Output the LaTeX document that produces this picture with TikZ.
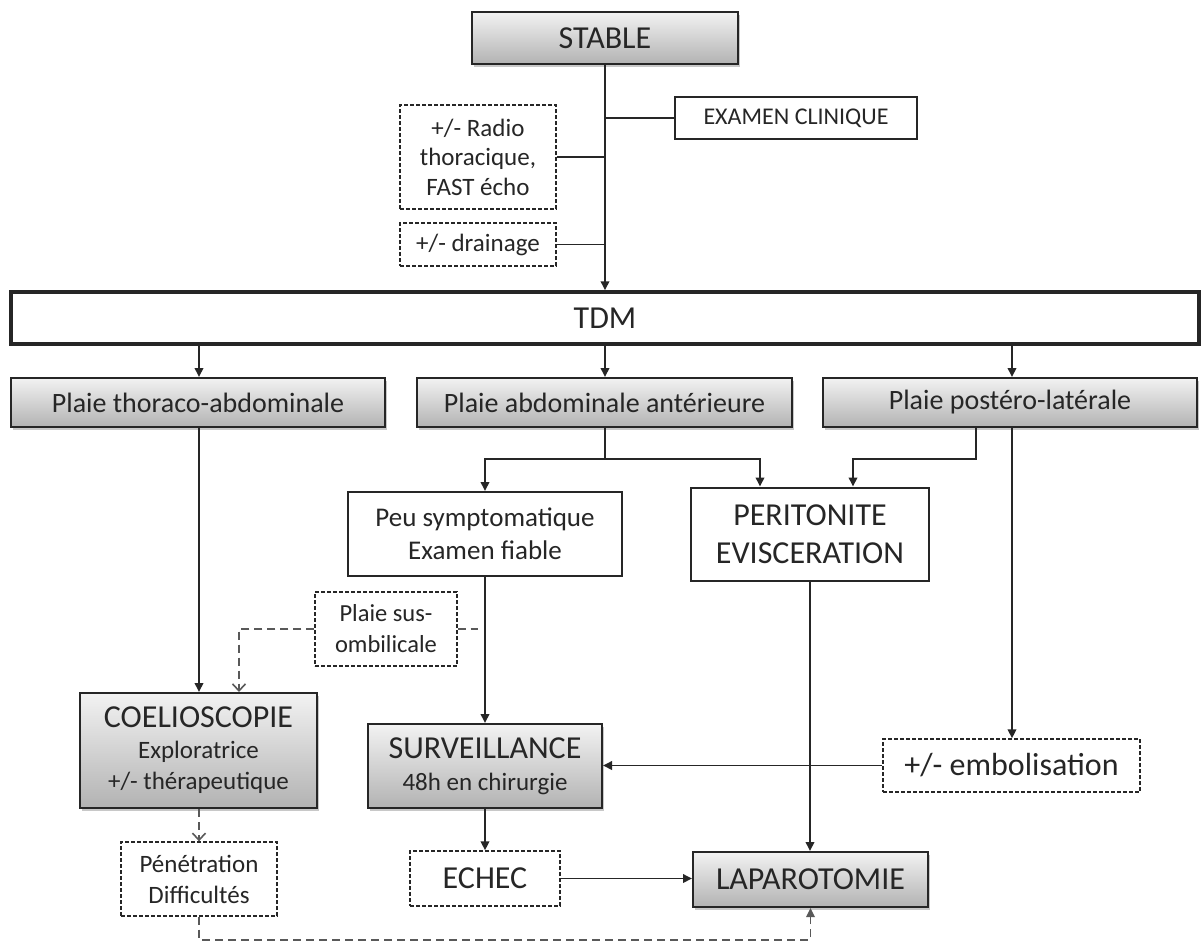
\documentclass[tikz,border=0pt]{standalone}
\usepackage{fontspec}
\setmainfont{Carlito}
\usetikzlibrary{arrows.meta,shadows}
\newcommand\fsz[2]{\fontsize{#1}{#2}\selectfont}
\definecolor{ink}{HTML}{262626}
\definecolor{dline}{HTML}{595959}
\begin{document}
\begin{tikzpicture}[x=1pt,y=-1pt,
  every node/.style={text=ink},
  sbox/.style={draw=ink,line width=2pt,fill=white,align=center,inner sep=0pt,rectangle},
  gbox/.style={sbox,top color=black!5,bottom color=black!30,
     drop shadow={shadow xshift=2pt,shadow yshift=-3pt,opacity=.3,fill=black!70}},
  dbox/.style={sbox,line width=1.4pt,dash pattern=on 4pt off 2pt},
  conn/.style={draw=ink,line width=1.9pt},
  arr/.style={conn,-{Triangle[length=9pt,width=8.5pt]}},
  dconn/.style={draw=dline,line width=1.7pt,dash pattern=on 8pt off 5pt},
  oarr/.style={dconn,-{Straight Barb[length=7pt,width=13pt,line width=1.6pt]}},
  farr/.style={dconn,-{Triangle[length=9pt,width=8.5pt]}}
]
\useasboundingbox (0,0) rectangle (1203,943);
\fill[white] (0,0) rectangle (1203,943);

% nodes
\node[gbox,minimum width=266pt,minimum height=52pt,font=\fsz{32}{38}] (stable) at (605,38) {STABLE};
\node[sbox,minimum width=242pt,minimum height=42pt,font=\fsz{24}{29}] (exam) at (796,118) {EXAMEN CLINIQUE};
\node[dbox,minimum width=156pt,minimum height=104pt,font=\fsz{25}{29.5}] (radio) at (478,157) {+/- Radio\\thoracique,\\FAST écho};
\node[dbox,minimum width=156pt,minimum height=43pt,font=\fsz{25}{30}] (drain) at (478,244.5) {+/- drainage};
\node[sbox,line width=3.5pt,minimum width=1188pt,minimum height=52pt,font=\fsz{32}{38}] (tdm) at (605,318) {TDM};

\node[gbox,minimum width=374pt,minimum height=49pt,font=\fsz{28}{34}] (pta) at (198,402.5) {Plaie thoraco-abdominale};
\node[gbox,minimum width=375pt,minimum height=49pt,font=\fsz{28}{34}] (paa) at (604.5,402.5) {Plaie abdominale antérieure};
\node[gbox,minimum width=374pt,minimum height=49pt,font=\fsz{28}{34}] (ppl) at (1010,402.5) {Plaie postéro-latérale};

\node[sbox,minimum width=274pt,minimum height=84pt,font=\fsz{27}{33}] (peu) at (485,534) {Peu symptomatique\\Examen fiable};
\node[sbox,minimum width=238pt,minimum height=93pt,font=\fsz{32}{38}] (peri) at (810,534) {PERITONITE\\EVISCERATION};

\node[dbox,minimum width=142pt,minimum height=74pt,font=\fsz{24.5}{31}] (sus) at (386,629) {Plaie sus-\\ombilicale};

\node[gbox,minimum width=237pt,minimum height=115pt,font=\fsz{25}{31}] (coel) at (198.5,750.5) {{\fsz{32}{31}COELIOSCOPIE}\\Exploratrice\\+/- thérapeutique};
\node[gbox,minimum width=234pt,minimum height=84pt,font=\fsz{25}{32}] (surv) at (485,766) {{\fsz{32}{32}SURVEILLANCE}\\48h en chirurgie};
\node[dbox,minimum width=257pt,minimum height=53pt,font=\fsz{32}{38}] (embol) at (1011.5,765.5) {+/- embolisation};

\node[dbox,minimum width=156pt,minimum height=74pt,font=\fsz{25}{31}] (pene) at (199,879) {Pénétration\\Difficultés};
\node[dbox,minimum width=150pt,minimum height=55pt,font=\fsz{32}{38}] (echec) at (485,878.5) {ECHEC};
\node[gbox,minimum width=235pt,minimum height=55pt,font=\fsz{32}{38}] (lapa) at (810.5,879.5) {LAPAROTOMIE};

\coordinate (susend) at (478,629);

% connectors
\draw[arr] (stable.south) -- (stable.south |- tdm.north);
\draw[conn] (exam.west) -- (exam.west -| stable.south);
\draw[conn] (radio.east) -- (radio.east -| stable.south);
\draw[conn] (drain.east) -- (drain.east -| stable.south);

\draw[arr] ([xshift=1pt]pta.north |- tdm.south) -- ([xshift=1pt]pta.north);
\draw[arr] (stable.south |- tdm.south) -- (stable.south |- paa.north);
\draw[arr] ([xshift=2pt]ppl.north |- tdm.south) -- ([xshift=2pt]ppl.north);

\draw[arr] (stable.south |- paa.south) -- ++(0,31) -| (peu.north);
\draw[arr] (stable.south |- paa.south) -- ++(0,31) -| ([xshift=-50pt]peri.north);
\draw[arr] ([xshift=-34pt]ppl.south) -- ++(0,31) -| ([xshift=43pt]peri.north);
\draw[arr] ([xshift=2pt]ppl.south) -- ([xshift=2pt]ppl.south |- embol.north);

\draw[arr] ([xshift=1pt]pta.south) -- ([xshift=1pt]pta.south |- coel.north);
\draw[arr] (peu.south) -- (surv.north);
\draw[arr] (peri.south) -- (peri.south |- lapa.north);

\draw[dconn] (sus.east) -- (susend);
\draw[oarr] (sus.west) -| ([xshift=40.5pt]coel.north);

\draw[arr] (embol.west) -- (embol.west -| surv.east);
\draw[oarr] ([xshift=0.5pt]coel.south) -- ([xshift=0.5pt]coel.south |- pene.north);
\draw[arr] (surv.south) -- (echec.north);
\draw[arr] (echec.east) -- (echec.east -| lapa.west);
\draw[farr] (pene.south) -- ++(0,23) -| (lapa.south);
\end{tikzpicture}
\end{document}
